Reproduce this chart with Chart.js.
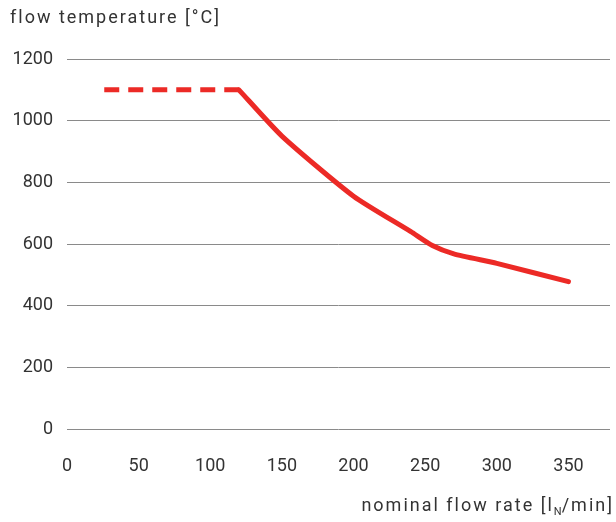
<!DOCTYPE html>
<html>
<head>
<meta charset="utf-8">
<script src="https://cdn.jsdelivr.net/npm/chart.js@4"></script>
<style>
    html, body { margin: 0; padding: 0; background: #fff; }
    .wrap { position: relative; width: 616px; height: 522px; }
    canvas { position: absolute; left: 0; top: 0; }
    .title {
        position: absolute;
        font-family: 'Roboto', sans-serif;
        font-size: 18px;
        letter-spacing: 2px;
        color: #333;
        white-space: nowrap;
    }
    .ytitle { left: 10px; top: 6px; }
    .xtitle { right: 2px; top: 494px; }
    .xtitle sub { font-size: 11px; vertical-align: -4px; line-height: 0; letter-spacing: 0; }
</style>
</head>
<body>
<div class="wrap">
    <canvas id="chart" width="616" height="522"></canvas>
    <div class="title ytitle">flow temperature [°C]</div>
    <div class="title xtitle">nominal flow rate [l<sub>N</sub>/min]</div>
</div>
<script>
// --- DATA ---
const DASHED_X = [26, 120];
const DASHED_Y = [1100, 1100];

const SOLID_X = [120, 150, 200, 240, 255, 270, 300, 350];
const SOLID_Y = [1100, 950, 755, 640, 595, 568, 537, 478];

const X_TICKS = [0, 50, 100, 150, 200, 250, 300, 350];
const Y_TICKS = [0, 200, 400, 600, 800, 1000, 1200];

const RED = '#ec2a26';
const FONT = "'Roboto', sans-serif";

const toPoints = (xs, ys) => xs.map((x, i) => ({ x, y: ys[i] }));

new Chart(document.getElementById('chart').getContext('2d'), {
    type: 'line',
    data: {
        datasets: [
            {
                data: toPoints(DASHED_X, DASHED_Y),
                borderColor: RED,
                borderWidth: 5,
                borderDash: [15, 9],
                borderCapStyle: 'butt',
                pointRadius: 0,
            },
            {
                data: toPoints(SOLID_X, SOLID_Y),
                borderColor: RED,
                borderWidth: 5,
                borderCapStyle: 'round',
                borderJoinStyle: 'round',
                tension: 0.2,
                pointRadius: 0,
            }
        ]
    },
    options: {
        responsive: false,
        animation: false,
        layout: { padding: { top: 59, right: 6, left: 0, bottom: 0 } },
        scales: {
            x: {
                type: 'linear',
                min: 0,
                max: 379,
                afterBuildTicks(scale) { scale.ticks = X_TICKS.map(v => ({ value: v })); },
                afterFit(scale) { scale.height = 93; },
                border: { display: false },
                grid: { display: false },
                ticks: {
                    color: '#333',
                    padding: 19,
                    maxRotation: 0,
                    callback: v => String(v),
                    font: { family: FONT, size: 18 },
                }
            },
            y: {
                min: 0,
                max: 1200,
                afterBuildTicks(scale) { scale.ticks = Y_TICKS.map(v => ({ value: v })); },
                afterFit(scale) { scale.width = 67; },
                border: { display: false },
                grid: { color: '#8a8a8a', lineWidth: 1, drawTicks: false },
                ticks: {
                    color: '#333',
                    padding: 14,
                    callback: v => String(v),
                    font: { family: FONT, size: 18 },
                }
            }
        },
        plugins: {
            legend: { display: false },
            tooltip: { enabled: false }
        }
    }
});
</script>
</body>
</html>
